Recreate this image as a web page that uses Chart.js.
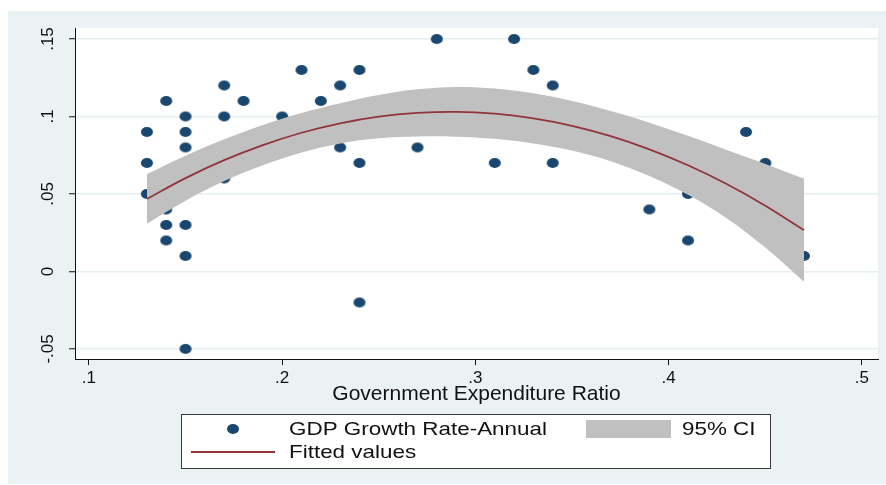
<!DOCTYPE html>
<html><head><meta charset="utf-8">
<script src="https://cdn.jsdelivr.net/npm/chart.js@4.4.1/dist/chart.umd.min.js"></script>
<style>html,body{margin:0;padding:0;background:#fff;overflow:hidden}#wrap{width:886px;height:485px;position:relative}</style>
</head><body><div id="wrap"><canvas id="c" width="886" height="485"></canvas></div>
<script>
// ---- data ----
const gdpX = [0.13,0.13,0.13,0.14,0.14,0.14,0.14,0.15,0.15,0.15,0.15,0.15,0.15,0.17,0.17,0.17,0.18,0.20,0.21,0.22,0.23,0.23,0.24,0.24,0.24,0.27,0.28,0.31,0.32,0.33,0.34,0.34,0.39,0.41,0.41,0.44,0.45,0.47];
const gdpY = [0.05,0.07,0.09,0.11,0.04,0.03,0.02,0.10,0.09,0.08,0.03,0.01,-0.05,0.12,0.10,0.06,0.11,0.10,0.13,0.11,0.12,0.08,0.13,0.07,-0.02,0.08,0.15,0.07,0.15,0.13,0.12,0.07,0.04,0.05,0.02,0.09,0.07,0.01];
const fitX = [0.13,0.15,0.17,0.19,0.21,0.23,0.25,0.27,0.29,0.31,0.33,0.35,0.37,0.39,0.41,0.43,0.45,0.47];
const fitY = [0.0468,0.0602,0.0718,0.0815,0.0895,0.0956,0.0999,0.1023,0.1030,0.1018,0.0988,0.0940,0.0873,0.0788,0.0685,0.0564,0.0424,0.0266];
const ciLow = [0.0308,0.0457,0.0583,0.0685,0.0767,0.0826,0.0859,0.0871,0.0870,0.0856,0.0826,0.0780,0.0711,0.0616,0.0495,0.0344,0.0154,-0.0067];
const ciHigh = [0.0628,0.0747,0.0853,0.0945,0.1023,0.1086,0.1139,0.1175,0.1190,0.1180,0.1150,0.1100,0.1035,0.0960,0.0875,0.0784,0.0694,0.0599];
const xTickVals = [0.1,0.2,0.3,0.4,0.5];
const xTickLabels = ['.1','.2','.3','.4','.5'];
const yTickVals = [-0.05,0,0.05,0.1,0.15];
const yTickLabels = ['-.05','0','.05','.1','.15'];
const xTitle = 'Government Expenditure Ratio';
const seriesNames = ['GDP Growth Rate-Annual','95% CI','Fitted values'];

// ---- styles ----
const NAVY = '#1A476F', MAROON = '#90353B', CIGRAY = 'rgb(192,192,192)', BG = '#EAF2F3';
const FONT = '"Liberation Sans", Arial, sans-serif';

function makeDot(w, h) {
  const c = document.createElement('canvas');
  c.width = w + 2; c.height = h + 2;
  const g = c.getContext('2d');
  g.fillStyle = NAVY;
  g.beginPath(); g.ellipse(c.width/2, c.height/2, w/2, h/2, 0, 0, Math.PI*2); g.fill();
  return c;
}
const dotImg = makeDot(12, 10);

const zip = (xs, ys) => xs.map((x, i) => ({x, y: ys[i]}));

const bgPlugin = {
  id: 'bgPlugin',
  beforeDraw(chart) {
    const {ctx, chartArea: a} = chart;
    ctx.save();
    ctx.fillStyle = '#fff'; ctx.fillRect(0, 0, chart.width, chart.height);
    ctx.fillStyle = BG; ctx.fillRect(8, 11, chart.width - 8, chart.height - 12);
    ctx.fillStyle = '#fff'; ctx.fillRect(a.left, a.top, a.right - a.left, a.bottom - a.top);
    ctx.restore();
  }
};

function stretchedText(ctx, txt, x, y, sx) {
  ctx.save(); ctx.translate(x, y); ctx.scale(sx, 1); ctx.fillText(txt, 0, 0); ctx.restore();
}

const legendPlugin = {
  id: 'boxLegend',
  afterDraw(chart) {
    const ctx = chart.ctx;
    ctx.save();
    ctx.fillStyle = '#fff';
    ctx.fillRect(181.5, 414.5, 589, 54);
    ctx.strokeStyle = '#3a3a3a'; ctx.lineWidth = 1;
    ctx.strokeRect(181.5, 414.5, 589, 54);
    ctx.drawImage(dotImg, 233 - dotImg.width/2, 429 - dotImg.height/2);
    ctx.fillStyle = CIGRAY; ctx.fillRect(586, 420, 85, 18);
    ctx.strokeStyle = MAROON; ctx.lineWidth = 1.8;
    ctx.beginPath(); ctx.moveTo(191, 452); ctx.lineTo(275, 452); ctx.stroke();
    ctx.fillStyle = '#111'; ctx.font = '19px ' + FONT; ctx.textBaseline = 'middle'; ctx.textAlign = 'left';
    stretchedText(ctx, seriesNames[0], 289, 430, 1.18);
    stretchedText(ctx, seriesNames[1], 682, 430, 1.18);
    stretchedText(ctx, seriesNames[2], 289, 453, 1.18);
    ctx.restore();
  }
};

new Chart(document.getElementById('c'), {
  type: 'scatter',
  data: {
    datasets: [
      { type: 'line', label: seriesNames[2], data: zip(fitX, fitY), borderColor: MAROON, borderWidth: 1.8,
        pointRadius: 0, tension: 0.35, fill: false, order: 0 },
      { type: 'line', label: 'ciHigh', data: zip(fitX, ciHigh), borderColor: 'rgba(0,0,0,0)', borderWidth: 0,
        pointRadius: 0, tension: 0.35, backgroundColor: CIGRAY, fill: 2, order: 1 },
      { type: 'line', label: 'ciLow', data: zip(fitX, ciLow), borderColor: 'rgba(0,0,0,0)', borderWidth: 0,
        pointRadius: 0, tension: 0.35, fill: false, order: 1 },
      { type: 'scatter', label: seriesNames[0], data: zip(gdpX, gdpY), pointStyle: dotImg, pointRadius: 6,
        borderWidth: 0, backgroundColor: NAVY, borderColor: NAVY, order: 3 }
    ]
  },
  options: {
    responsive: false, animation: false, devicePixelRatio: 1,
    layout: { padding: { left: 0, right: 8, top: 28, bottom: 78 } },
    plugins: { legend: { display: false }, tooltip: { enabled: false } },
    scales: {
      x: {
        type: 'linear', min: 0.0928, max: 0.5083,
        afterBuildTicks: s => { s.ticks = xTickVals.map(v => ({value: v})); },
        afterFit: s => { s.height = 48; },
        ticks: { callback: (v) => xTickLabels[xTickVals.findIndex(t => Math.abs(t - v) < 1e-9)], color: '#111',
          font: { family: FONT, size: 17 }, padding: 3, autoSkip: false, maxRotation: 0 },
        grid: { drawOnChartArea: false, drawTicks: true, tickLength: 6, tickColor: '#111', tickWidth: 1 },
        border: { display: true, color: '#111', width: 1 },
        title: { display: true, text: xTitle, color: '#111', font: { family: FONT, size: 21 }, padding: { top: 0, bottom: 0 } }
      },
      y: {
        type: 'linear', min: -0.0565, max: 0.1571,
        afterBuildTicks: s => { s.ticks = yTickVals.map(v => ({value: v})); },
        afterFit: s => { s.width = 75; },
        ticks: { callback: (v) => yTickLabels[yTickVals.findIndex(t => Math.abs(t - v) < 1e-9)], color: '#111',
          font: { family: FONT, size: 17 }, padding: 6, autoSkip: false, minRotation: 90, maxRotation: 90, crossAlign: 'center' },
        grid: { color: '#E4EDF0', lineWidth: 1.5, drawTicks: true, tickLength: 6, tickColor: '#111', tickWidth: 1 },
        border: { display: true, color: '#111', width: 1 }
      }
    }
  },
  plugins: [bgPlugin, legendPlugin]
});
</script></body></html>
